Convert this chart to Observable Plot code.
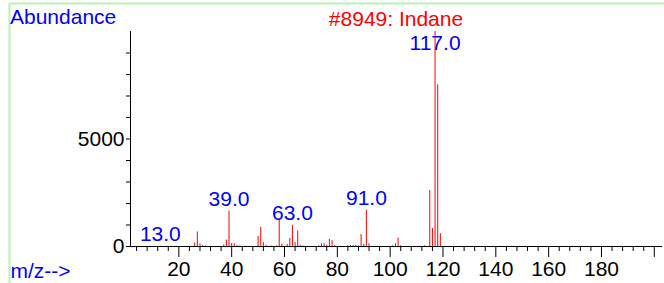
<!DOCTYPE html>
<html>
<head>
<meta charset="utf-8">
<script src="https://cdn.jsdelivr.net/npm/d3@7"></script>
<script src="https://cdn.jsdelivr.net/npm/@observablehq/plot@0.6"></script>
<style>
  html, body { margin: 0; padding: 0; background: #fff; }
  svg { display: block; }
</style>
</head>
<body>
<div id="chart"></div>
<script>
const title = "#8949: Indane";
const yTitle = "Abundance";
const xTitle = "m/z-->";

const mzValues = [13, 26, 27, 28, 29, 30, 37, 38, 39, 40, 41, 42, 43, 45,
  50, 51, 52, 53, 55, 57, 58, 59, 61, 62, 63, 64, 65, 66, 67,
  73, 74, 75, 76, 77, 78, 79, 84, 85, 86, 87, 88, 89, 90, 91, 92,
  101, 102, 103, 104, 113, 115, 116, 117, 118, 119];
const abundances = [10, 160, 680, 120, 40, 20, 70, 300, 1650, 140, 130, 40, 20, 20,
  470, 890, 180, 60, 20, 30, 1210, 110, 100, 370, 980, 180, 720, 50, 20,
  30, 130, 130, 60, 330, 270, 50, 30, 40, 50, 50, 30, 560, 100, 1690, 130,
  40, 130, 390, 30, 30, 2600, 840, 9999, 7520, 600];
const labeledMz = [13, 39, 63, 91, 117];
const xMajorTicks = [20, 40, 60, 80, 100, 120, 140, 160, 180, 200];
const xTickLabels = ["20", "40", "60", "80", "100", "120", "140", "160", "180", ""];
const xMinorTicks = d3.range(4, 201, 4).filter(v => v % 20 !== 0);
const yTicks = [0, 1000, 2000, 3000, 4000, 5000, 6000, 7000, 8000, 9000];
const yTickLabels = ["0", "", "", "", "", "5000", "", "", "", ""];

const peaks = mzValues.map((mz, i) => ({mz, ab: abundances[i]}));
const labels = labeledMz.map(mz => ({mz, ab: peaks.find(p => p.mz === mz).ab}));

const xDomain = [1.7, 203.1];
const FONT = "'Liberation Sans', Arial, sans-serif";

const chart = Plot.plot({
  width: 664,
  height: 283,
  marginLeft: 130,
  marginRight: 2,
  marginTop: 31,
  marginBottom: 37,
  style: {fontFamily: FONT, fontSize: "21px", color: "black", background: "white"},
  x: {domain: xDomain, label: null},
  y: {domain: [0, 10000], label: null},
  marks: [
    Plot.axisX({ticks: xMinorTicks, tickSize: 5, tickFormat: () => "", stroke: "black", strokeOpacity: 1, label: null}),
    Plot.axisX({ticks: xMajorTicks, tickSize: 11, tickPadding: 4,
      tickFormat: d => xTickLabels[xMajorTicks.indexOf(d)], fontSize: 21, fill: "black", stroke: "black", strokeOpacity: 1, label: null}),
    Plot.axisY({ticks: yTicks, tickSize: 4, tickPadding: 2,
      tickFormat: d => yTickLabels[yTicks.indexOf(d)], fontSize: 21, fill: "black", stroke: "black", strokeOpacity: 1, label: null}),
    Plot.ruleX(peaks, {x: "mz", y1: 0, y2: "ab", stroke: "#ff0000", strokeWidth: 1}),
    Plot.ruleY([0], {x1: xDomain[0], x2: xDomain[1], stroke: "black"}),
    Plot.ruleX([xDomain[0]], {y1: 0, y2: 10000, stroke: "black"}),
    Plot.text(labels, {x: "mz", y: d => Math.min(d.ab, 8900), text: d => d.mz.toFixed(1),
      fill: "#0000ff", lineAnchor: "bottom", dy: -5, fontSize: 21})
  ]
});

const svg = d3.select(chart);
// light green frame (top and left edges)
svg.append("line").attr("x1", 9.5).attr("x2", 664).attr("y1", 3.5).attr("y2", 3.5)
  .attr("stroke", "#b3f3b3").attr("stroke-width", 2);
svg.append("line").attr("x1", 9.5).attr("x2", 9.5).attr("y1", 3.5).attr("y2", 283)
  .attr("stroke", "#b3f3b3").attr("stroke-width", 2);
svg.append("text").attr("x", 10).attr("y", 24).attr("fill", "#0000ff").attr("text-anchor", "start")
  .attr("font-family", FONT).attr("font-size", 21).text(yTitle);
svg.append("text").attr("x", 10.5).attr("y", 278).attr("fill", "#0000ff").attr("text-anchor", "start")
  .attr("font-family", FONT).attr("font-size", 21).text(xTitle);
svg.append("text").attr("x", 396).attr("y", 25.5).attr("fill", "#ff0000")
  .attr("text-anchor", "middle").attr("font-family", FONT).attr("font-size", 21).text(title);

document.getElementById("chart").appendChild(chart);
</script>
</body>
</html>
